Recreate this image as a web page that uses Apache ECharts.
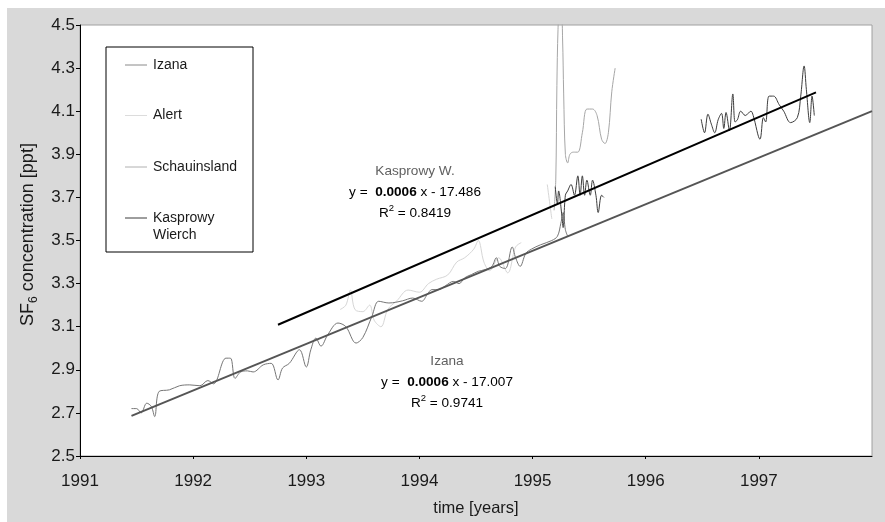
<!DOCTYPE html>
<html><head><meta charset="utf-8">
<script src="https://cdn.jsdelivr.net/npm/echarts@6/dist/echarts.min.js"></script>
<style>
html,body{margin:0;padding:0;background:#fff;}
#wrap{position:relative;width:885px;height:522px;overflow:hidden;}
#bg{position:absolute;left:7px;top:8px;width:878px;height:514px;background:#d9d9d9;}
#c{position:absolute;left:0;top:0;width:885px;height:522px;}
</style>
</head><body>
<div id="wrap"><div id="bg"></div><div id="c"></div></div>
<script>
// ---- data ----
const xTickYears = [1991, 1992, 1993, 1994, 1995, 1996, 1997];

const izana = [
 [1991.455,2.72],[1991.50,2.72],[1991.54,2.70],[1991.59,2.745],[1991.63,2.73],[1991.66,2.683],
 [1991.70,2.80],[1991.79,2.807],[1991.88,2.826],[1991.97,2.83],[1992.06,2.826],[1992.13,2.85],
 [1992.18,2.835],[1992.29,2.954],[1992.33,2.954],[1992.37,2.86],[1992.42,2.89],[1992.48,2.895],
 [1992.53,2.89],[1992.62,2.923],[1992.69,2.93],[1992.75,2.853],[1992.79,2.908],[1992.85,2.93],
 [1992.94,2.993],[1993.00,2.913],[1993.04,2.993],[1993.085,3.047],[1993.13,3.01],[1993.19,3.063],
 [1993.28,3.117],[1993.35,3.10],[1993.44,3.024],[1993.50,3.05],[1993.58,3.148],[1993.64,3.218],
 [1993.73,3.21],[1993.85,3.22],[1993.94,3.233],[1994.02,3.218],[1994.07,3.25],[1994.11,3.272],
 [1994.17,3.272],[1994.23,3.29],[1994.30,3.31],[1994.35,3.30],[1994.40,3.327],[1994.46,3.342],
 [1994.52,3.357],[1994.58,3.365],[1994.64,3.38],[1994.68,3.42],[1994.71,3.38],[1994.76,3.37],
 [1994.82,3.47],[1994.85,3.42],[1994.89,3.38],[1994.94,3.44],[1994.99,3.46],[1995.07,3.48],
 [1995.17,3.50],[1995.22,3.52],[1995.25,3.58],[1995.27,3.63],[1995.29,3.55],[1995.31,3.52]
];

const alert = [
 [1993.30,3.18],[1993.35,3.20],[1993.39,3.27],[1993.43,3.18],[1993.50,3.17],[1993.56,3.20],
 [1993.60,3.13],[1993.66,3.10],[1993.72,3.18],[1993.80,3.22],[1993.90,3.27],[1994.00,3.26],
 [1994.08,3.30],[1994.15,3.32],[1994.25,3.34],[1994.33,3.40],[1994.40,3.42],[1994.48,3.46],
 [1994.52,3.50],[1994.57,3.40],[1994.62,3.36],[1994.70,3.42],[1994.78,3.35],[1994.85,3.47],
 [1994.90,3.49],[1995.00,'-'],[1995.13,3.76],[1995.17,3.60]
];

const schauinsland = [
 [1995.19,3.64],[1995.205,3.78],[1995.215,4.22],[1995.225,4.48],[1995.235,4.53],[1995.255,4.53],
 [1995.265,4.44],[1995.275,4.18],[1995.29,3.90],[1995.31,3.86],[1995.33,3.90],[1995.36,3.91],
 [1995.40,3.91],[1995.44,4.00],[1995.48,4.11],[1995.53,4.11],[1995.57,4.08],[1995.61,3.97],
 [1995.64,3.95],[1995.67,4.00],[1995.70,4.19],[1995.73,4.30]
];

const kasprowy = [
 [1995.20,3.75],[1995.22,3.67],[1995.23,3.73],[1995.26,3.61],[1995.27,3.56],[1995.29,3.71],
 [1995.31,3.73],[1995.34,3.76],[1995.37,3.71],[1995.40,3.80],[1995.42,3.71],[1995.44,3.80],
 [1995.46,3.71],[1995.48,3.78],[1995.51,3.71],[1995.53,3.78],[1995.56,3.71],[1995.58,3.63],
 [1995.61,3.71],[1995.63,3.70],[1996.0,'-'],
 [1996.49,4.063],[1996.52,4.00],[1996.55,4.086],[1996.58,4.04],[1996.61,4.00],[1996.64,4.06],
 [1996.67,4.09],[1996.69,4.02],[1996.71,4.094],[1996.74,4.01],[1996.77,4.18],[1996.79,4.05],
 [1996.81,4.06],[1996.84,4.10],[1996.88,4.08],[1996.93,4.10],[1996.95,4.08],[1997.01,3.97],
 [1997.04,4.07],[1997.06,4.05],[1997.09,4.17],[1997.13,4.17],[1997.18,4.13],[1997.22,4.10],
 [1997.28,4.047],[1997.34,4.07],[1997.37,4.17],[1997.40,4.31],[1997.42,4.20],[1997.45,4.047],
 [1997.47,4.17],[1997.49,4.08]
];

const izanaTrend = [[1991.455,2.686],[1998.0,4.100]];
const kasprowyTrend = [[1992.75,3.109],[1997.505,4.187]];

const legendNames = ['Izana', 'Alert', 'Schauinsland', 'Kasprowy\nWierch'];
const kasprowyLabel = ['Kasprowy W.', '0.0006', '17.486', '0.8419'];
const izanaLabel = ['Izana', '0.0006', '17.007', '0.9741'];

// ---- styles ----
const FONT = 'Liberation Sans, Arial, sans-serif';
const colors = { izana:'#767676', alert:'#d6d6d6', schau:'#a6a6a6', kasp:'#3c3c3c' };
const legendColors = ['#8a8a8a', '#dcdcdc', '#b0b0b0', '#3c3c3c'];

const chart = echarts.init(document.getElementById('c'), null, {renderer:'canvas'});

function lineSeries(name, data, color, width, smooth, z){
  return { name, type:'line', data, showSymbol:false, symbol:'none', smooth,
    lineStyle:{color, width}, itemStyle:{color}, z, clip:true, connectNulls:false, animation:false };
}

const AF = 13.6;
const txt = {
  n:{fontSize:AF, color:'#606060', fontFamily:FONT, lineHeight:19},
  b:{fontSize:AF, color:'#606060', fontFamily:FONT, fontWeight:'bold', lineHeight:19},
  sup:{fontSize:9.5, color:'#606060', fontFamily:FONT, verticalAlign:'top', lineHeight:19}
};
function annot(lines, cx, y0){
  return [
    {type:'text', x:cx, y:y0, style:{text:lines[0], font:AF+'px '+FONT, fill:'#606060', align:'center', verticalAlign:'middle'}},
    {type:'text', x:cx, y:y0+21, style:{text:'{n|y =  }{b|'+lines[1]+'}{n| x - '+lines[2]+'}', rich:txt, align:'center', verticalAlign:'middle'}},
    {type:'text', x:cx, y:y0+42, style:{text:'{n|R}{sup|2}{n| = '+lines[3]+'}', rich:txt, align:'center', verticalAlign:'middle'}}
  ];
}

const legendY = [65, 115.5, 167, 218];
const legendGraphic = [
  {type:'rect', shape:{x:106, y:47, width:147, height:205}, style:{fill:'#fff', stroke:'#000', lineWidth:1}, z:10}
];
legendNames.forEach((nm, i) => {
  legendGraphic.push({type:'line', shape:{x1:125, y1:legendY[i], x2:147, y2:legendY[i]}, style:{stroke:legendColors[i], lineWidth:1}, z:11});
  legendGraphic.push({type:'text', x:153, y:legendY[i]-8.5, style:{text:nm, font:'14px '+FONT, fill:'#1a1a1a', align:'left', verticalAlign:'top', lineHeight:17}, z:11});
});

const option = {
  animation:false,
  grid:{left:80, right:13, top:25, bottom:66, show:true, backgroundColor:'#fff', borderColor:'#a0a0a0', borderWidth:1},
  xAxis:{
    type:'value', min:1991, max:1998, interval:1,
    name:'time [years]', nameLocation:'middle', nameGap:44,
    nameTextStyle:{fontSize:16.5, color:'#1a1a1a', fontFamily:FONT},
    axisLine:{show:true, onZero:false, lineStyle:{color:'#000', width:1}},
    axisTick:{show:true, inside:false, length:3, lineStyle:{color:'#000'}, customValues:xTickYears},
    axisLabel:{fontSize:17, color:'#1a1a1a', fontFamily:FONT, margin:17, customValues:xTickYears,
      formatter:v => String(v)},
    splitLine:{show:false}
  },
  yAxis:{
    type:'value', min:2.5, max:4.5, interval:0.2,
    name:'{a|SF}{s|6}{a| concentration [ppt]}', nameLocation:'middle', nameRotate:90, nameGap:40,
    nameTextStyle:{color:'#1a1a1a', fontFamily:FONT, padding:[0,0,0,12], rich:{
      a:{fontSize:18, color:'#1a1a1a', fontFamily:FONT, lineHeight:24},
      s:{fontSize:12, color:'#1a1a1a', fontFamily:FONT, verticalAlign:'bottom', lineHeight:24}
    }},
    axisLine:{show:true, onZero:false, lineStyle:{color:'#000', width:1}},
    axisTick:{show:true, inside:false, length:4, lineStyle:{color:'#000'}},
    axisLabel:{fontSize:17, color:'#1a1a1a', fontFamily:FONT, margin:5, formatter:v => v.toFixed(1)},
    splitLine:{show:false}
  },
  series:[
    lineSeries('Alert', alert, colors.alert, 1, 0.35, 2),
    lineSeries('Schauinsland', schauinsland, colors.schau, 1, 0.35, 3),
    lineSeries('Izana', izana, colors.izana, 1, 0.35, 4),
    lineSeries('Kasprowy Wierch', kasprowy, colors.kasp, 1, 0.35, 5),
    lineSeries('Izana trend', izanaTrend, '#555555', 2, false, 6),
    lineSeries('Kasprowy trend', kasprowyTrend, '#000000', 2, false, 7)
  ],
  graphic:[].concat(legendGraphic, annot(kasprowyLabel, 415, 171), annot(izanaLabel, 447, 361))
};
chart.setOption(option);
</script>
</body></html>
